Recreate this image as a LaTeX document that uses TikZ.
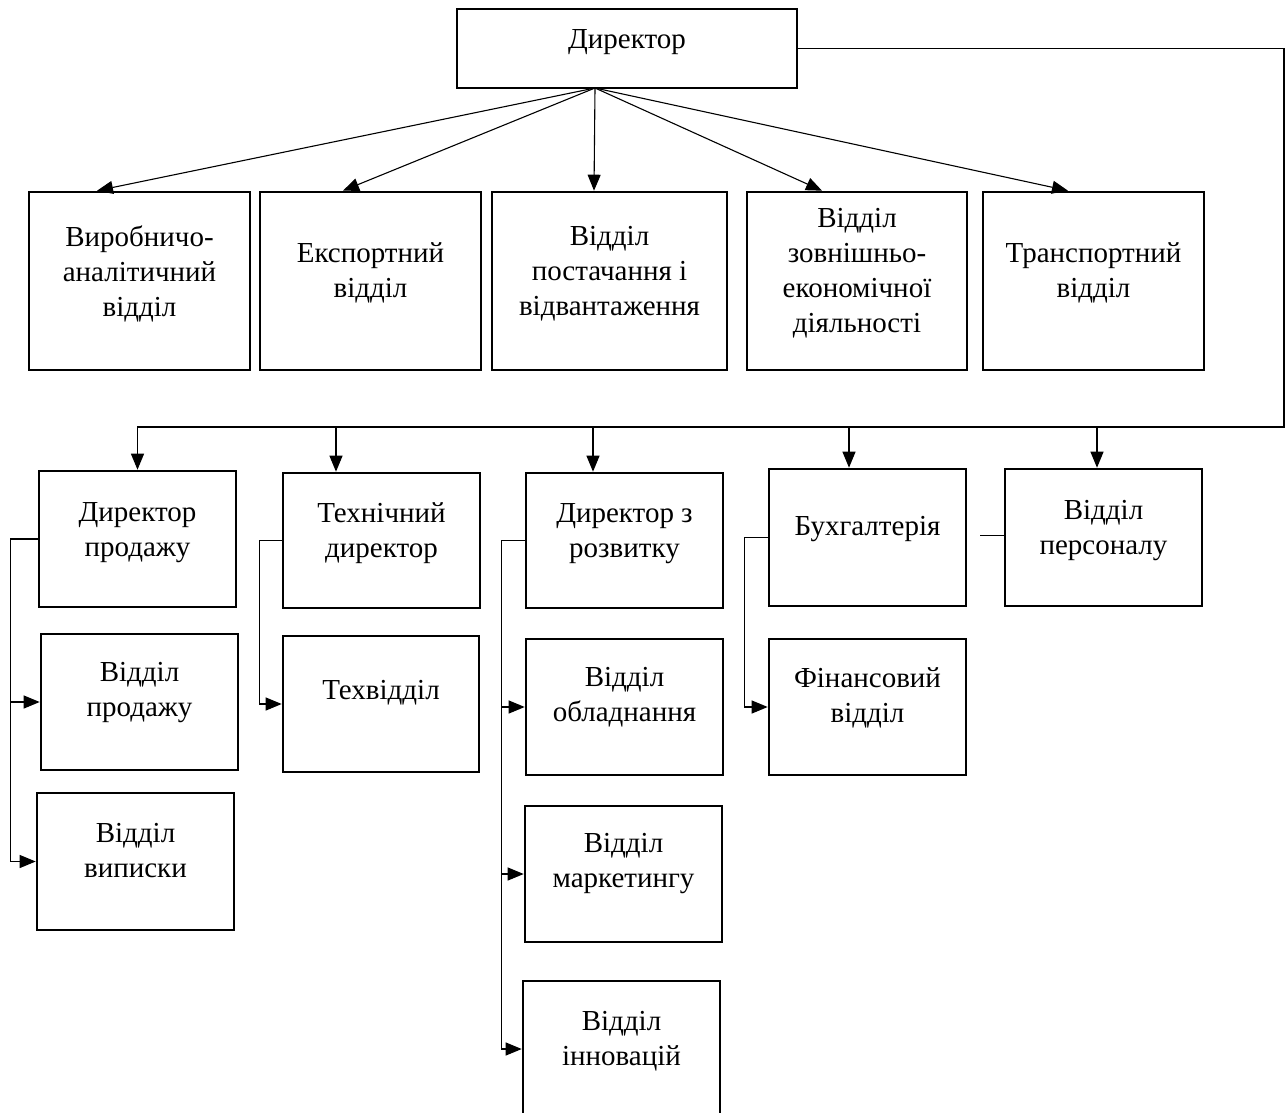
\documentclass[tikz,border=0pt]{standalone}
\usepackage{fontspec}
\setmainfont{Liberation Serif}
\usetikzlibrary{arrows.meta}
\tikzset{
  box/.style={draw=black, line width=2.6pt, rectangle, inner sep=0pt},
  txt/.style={align=center, inner sep=0pt, font=\fontsize{29}{35}\selectfont},
  conn/.style={draw=black, line width=1.1pt},
  arr/.style={conn, -{Triangle[length=16pt,width=13pt]}},
}
\begin{document}
\begin{tikzpicture}[x=1pt,y=-1pt]
\useasboundingbox (0,0) rectangle (1287,1113);
\clip (0,0) rectangle (1287,1113);
% top
\node[box, minimum width=340pt, minimum height=79pt] (dir) at (627,48.5) {};
\node[txt] (dirt) at (627,42) {Директор};
% row 1
\node[box, minimum width=221pt, minimum height=178pt] (b1) at (139.5,281) {};
\node[box, minimum width=221pt, minimum height=178pt] (b2) at (370.5,281) {};
\node[box, minimum width=235pt, minimum height=178pt] (b3) at (609.5,281) {};
\node[box, minimum width=220pt, minimum height=178pt] (b4) at (857,281) {};
\node[box, minimum width=221pt, minimum height=178pt] (b5) at (1093.5,281) {};
\node[txt] (b1t) at (139.5,274) {Виробничо-\\аналітичний\\відділ};
\node[txt] (b2t) at (370.5,273) {Експортний\\відділ};
\node[txt] (b3t) at (609.5,274) {Відділ\\постачання і\\відвантаження};
\node[txt] (b4t) at (857,273) {Відділ\\зовнішньо-\\економічної\\діяльності};
\node[txt] (b5t) at (1093.5,273) {Транспортний\\відділ};
% row 2
\node[box, minimum width=197pt, minimum height=136pt] (dp) at (137.5,539) {};
\node[box, minimum width=197pt, minimum height=135pt] (td) at (381.5,540.5) {};
\node[box, minimum width=197pt, minimum height=135pt] (dr) at (624.5,540.5) {};
\node[box, minimum width=197pt, minimum height=137pt] (bh) at (867.5,537.5) {};
\node[box, minimum width=197pt, minimum height=137pt] (vp) at (1103.5,537.5) {};
\node[txt] (dpt) at (137.5,533) {Директор\\продажу};
\node[txt] (tdt) at (381.5,533) {Технічний\\директор};
\node[txt] (drt) at (624.5,534) {Директор з\\розвитку};
\node[txt] (bht) at (867.5,529) {Бухгалтерія};
\node[txt] (vpt) at (1103.5,531) {Відділ\\персоналу};
% row 3
\node[box, minimum width=197pt, minimum height=136pt] (vpr) at (139.5,702) {};
\node[box, minimum width=196pt, minimum height=136pt] (tv) at (381,704) {};
\node[box, minimum width=197pt, minimum height=136pt] (vo) at (624.5,707) {};
\node[box, minimum width=197pt, minimum height=136pt] (fv) at (867.5,707) {};
\node[txt] (vprt) at (139.5,693) {Відділ\\продажу};
\node[txt] (tvt) at (381,693) {Техвідділ};
\node[txt] (vot) at (624.5,697) {Відділ\\обладнання};
\node[txt] (fvt) at (867.5,698) {Фінансовий\\відділ};
% row 4
\node[box, minimum width=197pt, minimum height=137pt] (vv) at (135.5,861.5) {};
\node[box, minimum width=197pt, minimum height=136pt] (vm) at (623.5,874) {};
\node[txt] (vvt) at (135.5,851) {Відділ\\виписки};
\node[txt] (vmt) at (623.5,864) {Відділ\\маркетингу};
% row 5
\node[box, minimum width=197pt, minimum height=136pt] (vi) at (621.5,1049) {};
\node[txt] (vit) at (621.5,1041) {Відділ\\інновацій};
% arrows from director
\coordinate (hub) at (595,88);
\draw[arr] (hub) -- ([xshift=-42.5pt]b1.north);
\draw[arr] (hub) -- ([xshift=-27.5pt]b2.north);
\draw[arr] (hub) -- ([xshift=-15.5pt]b3.north);
\draw[arr] (hub) -- ([xshift=-35pt]b4.north);
\draw[arr] (hub) -- ([xshift=-25.5pt]b5.north);
% right loop
\coordinate (rc) at (1284,427);
\coordinate (tdin) at ([xshift=-45.5pt]td.north);
\coordinate (drin) at ([xshift=-31.5pt]dr.north);
\coordinate (bhin) at ([xshift=-18.5pt]bh.north);
\coordinate (vpin) at ([xshift=-6.5pt]vp.north);
\draw[arr] (dir.east) -| (rc) -- (dp.north |- rc) -- (dp.north);
\draw[arr] (tdin |- rc) -- (tdin);
\draw[arr] (drin |- rc) -- (drin);
\draw[arr] (bhin |- rc) -- (bhin);
\draw[arr] (vpin |- rc) -- (vpin);
% side connectors
\draw[arr] (dp.west) -- ++(-27,0) coordinate (dpv) |- (vv.west);
\draw[arr] (dpv |- vpr.west) -- (vpr.west);
\draw[arr] (td.west) -- ++(-22,0) |- (tv.west);
\draw[arr] (dr.west) -- ++(-23,0) coordinate (drv) |- (vi.west);
\draw[arr] (drv |- vo.west) -- (vo.west);
\draw[arr] (drv |- vm.west) -- (vm.west);
\draw[arr] (bh.west) -- ++(-23,0) |- (fv.west);
\draw[conn] ([yshift=2pt]vp.west) -- ++(-24,0);
\end{tikzpicture}
\end{document}
